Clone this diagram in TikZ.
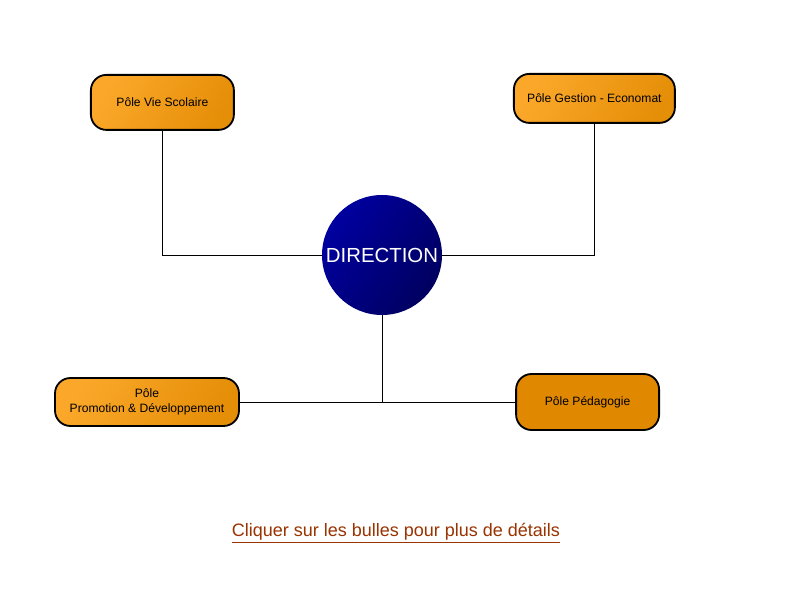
\documentclass[tikz,border=0pt]{standalone}
\usepackage{fontspec}
\setmainfont{Liberation Sans}
\usepackage{tikz}
\usetikzlibrary{positioning}
\definecolor{orange_light}{HTML}{FBA82A}
\definecolor{orange_dark}{HTML}{E08800}
\definecolor{navy_light}{HTML}{0000A0}
\definecolor{navy_dark}{HTML}{000060}
\definecolor{link_brown}{HTML}{993300}
\tikzset{
    polenode/.style = {align=center, inner sep=2pt, text centered, font=\fontsize{8.6}{10.5}\selectfont, rounded corners=11pt, draw=black, line width=1.3pt},
    pole_box/.style = {polenode, left color=orange_light, right color=orange_dark!80!orange_light, shading angle=60},
    pole_dark/.style = {polenode, fill=orange_dark},
    direction_node/.style = {circle, white, font=\fontsize{14.5}{16}\selectfont, minimum size=3cm, inner sep=0pt, left color=navy_light, right color=navy_dark, shading angle=55},
    link_text/.style = {text=link_brown, font=\fontsize{12.8}{15}\selectfont},
    liaison/.style = {draw=black, line width=0.7pt}
}
\begin{document}
\begin{tikzpicture}
    \useasboundingbox[fill=white] (0,0) rectangle (20,15);
    \node [direction_node] (dir) at (9.55,8.625) {DIRECTION}; % centre
    \node [pole_box, minimum width=3.575cm, minimum height=1.375cm] (vie) at (4.06,12.44) {Pôle Vie Scolaire};
    \node [pole_box, minimum width=4.025cm, minimum height=1.225cm] (gestion) at (14.86,12.54) {Pôle Gestion - Economat};
    \node [pole_box, minimum width=4.6cm, minimum height=1.2cm] (promo) at (3.675,4.95) {Pôle\\Promotion \& Développement};
    \node [pole_dark, minimum width=3.575cm, minimum height=1.4cm] (peda) at (14.69,4.95) {Pôle Pédagogie};
    \coordinate (jonction) at (dir.south |- promo.east);
    \draw [liaison] (vie.south) |- (dir.west);
    \draw [liaison] (gestion.south) |- (dir.east);
    \draw [liaison] (dir.south) -- (jonction);
    \draw [liaison] (promo.east) -- (peda.west);
    \node [link_text] (lien) at (9.9,1.66) {\underline{Cliquer sur les bulles pour plus de détails}};
\end{tikzpicture}
\end{document}
